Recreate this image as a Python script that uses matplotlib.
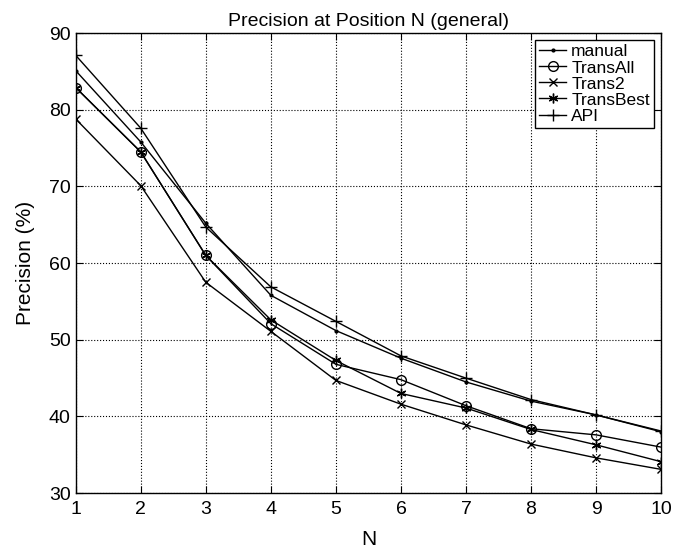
import numpy as np
import matplotlib.pyplot as plt

plt.rcParams['font.family'] = ['Liberation Sans', 'DejaVu Sans']

N = np.arange(1, 11)
manual = [85.1, 75.8, 65.2, 55.8, 51.2, 47.6, 44.5, 42.0, 40.2, 38.0]
trans_all = [82.9, 74.5, 61.0, 52.1, 46.8, 44.8, 41.4, 38.4, 37.6, 36.0]
trans2 = [78.8, 70.1, 57.5, 51.1, 44.7, 41.6, 38.9, 36.4, 34.6, 33.1]
trans_best = [82.9, 74.5, 61.0, 52.6, 47.3, 43.0, 41.1, 38.3, 36.3, 34.1]
api = [87.1, 77.6, 64.7, 56.9, 52.4, 47.9, 45.0, 42.2, 40.2, 38.1]

fig = plt.figure(figsize=(6.88, 5.51), dpi=100)
ax = fig.add_axes([0.110, 0.105, 0.851, 0.835])

kw = dict(color='black', linewidth=1.0)
ax.plot(N, manual, marker='.', markersize=4, label='manual', **kw)
ax.plot(N, trans_all, marker='o', markersize=7, fillstyle='none', label='TransAll', **kw)
ax.plot(N, trans2, marker='x', markersize=6, label='Trans2', **kw)
ax.plot(N, trans_best, marker=(6, 2, 0), markersize=7, label='TransBest', **kw)
ax.plot(N, api, marker='+', markersize=9, label='API', **kw)

ax.set_xlim(1, 10)
ax.set_ylim(30, 90)
ax.set_xticks(N)
ax.set_yticks(np.arange(30, 91, 10))
ax.grid(True, linestyle=':', color='black', linewidth=0.8)
ax.tick_params(direction='in', top=True, right=True, labelsize=14, length=5)
ax.tick_params(axis='x', pad=6)
for s in ax.spines.values():
    s.set_linewidth(1.0)

ax.set_title('Precision at Position N (general)', fontsize=14, pad=5)
ax.set_xlabel('N', fontsize=15, labelpad=8)
ax.set_ylabel('Precision (%)', fontsize=15, labelpad=10)

leg = ax.legend(loc='upper right', fontsize=12.5, fancybox=False, framealpha=1,
                edgecolor='black', handlelength=1.55, borderpad=0.25,
                labelspacing=0.05, handletextpad=0.3, borderaxespad=0.4)
leg.get_frame().set_linewidth(1.0)

fig.savefig('out.png', dpi=100)
